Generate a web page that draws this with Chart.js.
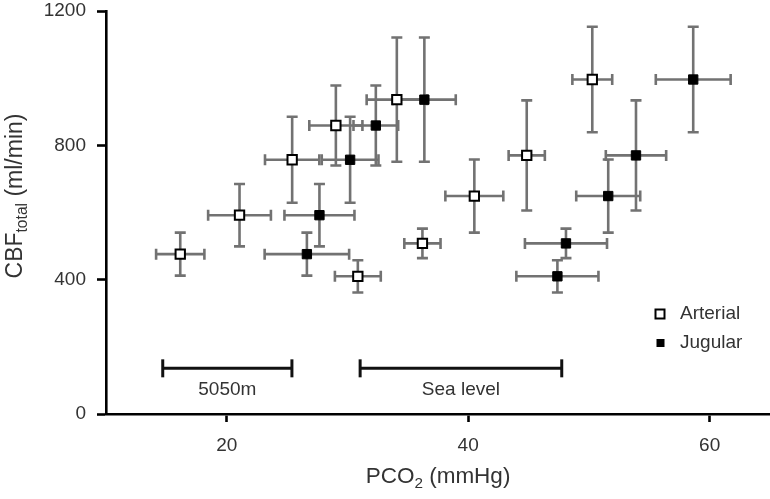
<!DOCTYPE html>
<html lang="en">
<head>
<meta charset="utf-8">
<title>CBF vs PCO2</title>
<script src="https://cdn.jsdelivr.net/npm/chart.js"></script>
<style>
  html, body { margin: 0; padding: 0; overflow: hidden; background: #fff; }
  canvas { display: block; }
</style>
</head>
<body>
<canvas id="cbf-chart" width="770" height="499"></canvas>
<script>
// total CBF (ml/min) with SD, shared by the arterial / jugular pair
const cbf = [476, 592, 757, 859, 936, 410, 508, 649, 770, 996];
const cbfErr = [64, 93, 128, 119, 185, 48, 44, 109, 164, 157];
// PCO2 (mmHg) with SD
const arterialPco2 = [16.15, 21.06, 25.42, 29.04, 34.09, 30.86, 36.21, 40.51, 44.85, 50.28];
const arterialErr = [2.0, 2.6, 2.25, 2.2, 2.5, 1.9, 1.5, 2.4, 1.5, 1.65];
const jugularPco2 = [26.64, 27.68, 30.22, 32.35, 36.37, 47.39, 48.1, 51.6, 53.9, 58.64];
const jugularErr = [3.5, 2.9, 2.35, 1.85, 2.6, 3.4, 3.4, 2.65, 2.5, 3.1];
// PCO2 ranges marked under the points
const rangeLabels = ['5050m', 'Sea level'];
const rangeStart = [14.7, 31.05];
const rangeEnd = [25.4, 47.75];
const rangeLevel = 136;
const xTicks = [20, 40, 60];

const textColor = '#333';
const fontFamily = '"Liberation Sans", Arial, sans-serif';

function toPoints(xs, ys) {
    return xs.map((x, i) => ({ x: x, y: ys[i] }));
}

function rangeDataset(i) {
    return {
        label: rangeLabels[i],
        data: [{ x: rangeStart[i], y: rangeLevel }, { x: rangeEnd[i], y: rangeLevel }],
        showLine: true,
        borderColor: '#111',
        borderWidth: 3,
        pointStyle: 'line',
        pointRotation: 90,
        pointRadius: 9,
        pointBorderWidth: 3,
        pointBorderColor: '#111'
    };
}

// draws "PCO" + sub "2" etc. centered on (0,0) of the current transform
function drawParts(ctx, parts, size) {
    let total = 0;
    const widths = parts.map(p => {
        ctx.font = (p[1] ? size * 0.68 : size) + 'px ' + fontFamily;
        const w = ctx.measureText(p[0]).width;
        total += w;
        return w;
    });
    let x = -total / 2;
    parts.forEach((p, i) => {
        ctx.font = (p[1] ? size * 0.68 : size) + 'px ' + fontFamily;
        ctx.fillText(p[0], x, p[1] ? size * 0.3 : 0);
        x += widths[i];
    });
}

function noPadding(scale) {
    scale.paddingLeft = 0;
    scale.paddingRight = 0;
    scale.paddingTop = 0;
    scale.paddingBottom = 0;
}

const extras = {
    id: 'extras',
    beforeDatasetsDraw(chart) {
        const ctx = chart.ctx;
        const sx = chart.scales.x, sy = chart.scales.y;
        const cap = 5.5;
        ctx.save();
        ctx.strokeStyle = '#727272';
        ctx.lineWidth = 2.6;
        [[arterialPco2, arterialErr], [jugularPco2, jugularErr]].forEach(([xs, xe]) => {
            xs.forEach((v, i) => {
                const px = sx.getPixelForValue(v);
                const py = sy.getPixelForValue(cbf[i]);
                const x0 = sx.getPixelForValue(v - xe[i]);
                const x1 = sx.getPixelForValue(v + xe[i]);
                const y0 = sy.getPixelForValue(cbf[i] - cbfErr[i]);
                const y1 = sy.getPixelForValue(cbf[i] + cbfErr[i]);
                ctx.beginPath();
                ctx.moveTo(x0, py); ctx.lineTo(x1, py);
                ctx.moveTo(x0, py - cap); ctx.lineTo(x0, py + cap);
                ctx.moveTo(x1, py - cap); ctx.lineTo(x1, py + cap);
                ctx.moveTo(px, y0); ctx.lineTo(px, y1);
                ctx.moveTo(px - cap, y0); ctx.lineTo(px + cap, y0);
                ctx.moveTo(px - cap, y1); ctx.lineTo(px + cap, y1);
                ctx.stroke();
            });
        });
        ctx.restore();
    },
    afterDraw(chart) {
        const ctx = chart.ctx;
        const sx = chart.scales.x, sy = chart.scales.y;
        ctx.save();
        ctx.fillStyle = textColor;
        ctx.textBaseline = 'middle';

        // range labels
        ctx.font = '19px ' + fontFamily;
        ctx.textAlign = 'center';
        rangeLabels.forEach((t, i) => {
            const mid = sx.getPixelForValue((rangeStart[i] + rangeEnd[i]) / 2);
            ctx.fillText(t, mid, sy.getPixelForValue(rangeLevel) + 21);
        });
        ctx.textAlign = 'left';

        // x title
        ctx.save();
        ctx.translate((chart.chartArea.left + chart.chartArea.right) / 2, 477);
        drawParts(ctx, [['PCO', false], ['2', true], [' (mmHg)', false]], 22.5);
        ctx.restore();

        // y title
        ctx.save();
        ctx.translate(16, 196);
        ctx.rotate(-Math.PI / 2);
        drawParts(ctx, [['CBF', false], ['total', true], [' (ml/min)', false]], 23);
        ctx.restore();

        // legend
        ctx.font = '19px ' + fontFamily;
        ctx.strokeStyle = '#000';
        ctx.lineWidth = 2;
        ctx.fillStyle = '#fff';
        ctx.fillRect(655.5, 309.5, 9, 9);
        ctx.strokeRect(655.5, 309.5, 9, 9);
        ctx.fillStyle = '#000';
        ctx.fillRect(656.5, 339, 8, 8);
        ctx.fillStyle = textColor;
        ctx.fillText('Arterial', 680, 314);
        ctx.fillText('Jugular', 680, 343);
        ctx.restore();
    }
};

new Chart(document.getElementById('cbf-chart').getContext('2d'), {
    type: 'scatter',
    data: {
        datasets: [{
            label: 'Arterial',
            data: toPoints(arterialPco2, cbf),
            pointStyle: 'rect',
            pointRadius: 6.6,
            pointBorderWidth: 2,
            pointBackgroundColor: '#fff',
            pointBorderColor: '#000'
        }, {
            label: 'Jugular',
            data: toPoints(jugularPco2, cbf),
            pointStyle: 'rect',
            pointRadius: 6.6,
            pointBorderWidth: 1,
            pointBackgroundColor: '#000',
            pointBorderColor: '#000'
        }, rangeDataset(0), rangeDataset(1)]
    },
    options: {
        responsive: false,
        animation: false,
        layout: { autoPadding: false, padding: { top: 11, right: 0, left: 0, bottom: 0 } },
        plugins: { legend: { display: false }, tooltip: { enabled: false } },
        scales: {
            x: {
                type: 'linear',
                min: 10,
                max: 65,
                afterBuildTicks: scale => { scale.ticks = xTicks.map(v => ({ value: v })); },
                afterFit: scale => { scale.height = 85; noPadding(scale); },
                border: { color: '#000', width: 2.6 },
                grid: { drawOnChartArea: false, tickLength: 8, tickColor: '#000', tickWidth: 2.6 },
                ticks: { color: textColor, padding: 12, font: { size: 19, family: fontFamily } }
            },
            y: {
                min: 0,
                max: 1200,
                ticks: {
                    stepSize: 400, color: textColor, padding: 11,
                    font: { size: 19, family: fontFamily },
                    callback: v => String(v)
                },
                afterFit: scale => { scale.width = 106; noPadding(scale); },
                border: { color: '#000', width: 2.6 },
                grid: { drawOnChartArea: false, tickLength: 9, tickColor: '#000', tickWidth: 2.6 }
            }
        }
    },
    plugins: [extras]
});
</script>
</body>
</html>
